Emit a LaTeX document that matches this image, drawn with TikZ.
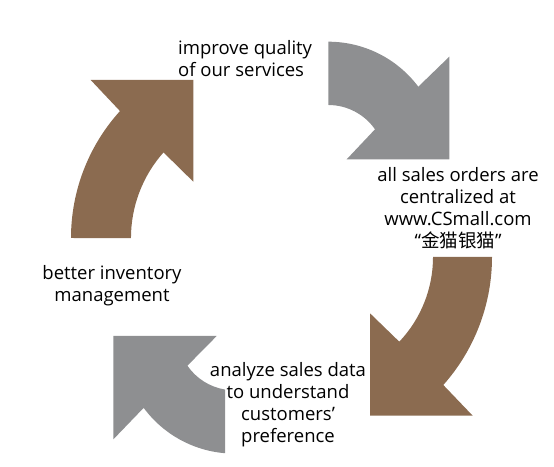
\documentclass[tikz,border=0pt]{standalone}
\usepackage{fontspec}
\setmainfont{Open Sans}
\newfontfamily\cjkfont{Noto Sans CJK SC}
\definecolor{arrbrown}{RGB}{139,107,80}
\definecolor{arrgray}{RGB}{142,143,145}
\begin{document}
\begin{tikzpicture}[x=1pt,y=1pt,
  lbl/.style={font=\fontsize{18.5}{22}\selectfont, inner sep=0pt},
  brownarrow/.style={fill=arrbrown, draw=none},
  grayarrow/.style={fill=arrgray, draw=none}]
\useasboundingbox (0,0) rectangle (554,466);
% arrow 1 (brown, upper left)
\fill[brownarrow] (71,228) arc[start angle=180,end angle=137.8,radius=189]
  -- (90.7,386) -- (193.3,386) -- (193.3,284.3) -- (163.5,313.6)
  arc[start angle=138.4,end angle=180,radius=129] -- cycle;
% arrow 2 (gray, upper right)
\fill[grayarrow] (328.3,424.3) arc[start angle=90,end angle=36.87,radius=112.5]
  -- (449.3,409.3) -- (449.3,306.7) -- (346.7,306.7) -- (375,336.7)
  arc[start angle=35,end angle=90,radius=57] -- cycle;
% arrow 3 (brown, lower right)
\fill[brownarrow] (492,209) arc[start angle=0,end angle=-41.65,radius=192.6]
  -- (472.7,50.3) -- (370,50.3) -- (370,152.7) -- (399.3,124.3)
  arc[start angle=-43.4,end angle=0,radius=123.3] -- cycle;
% arrow 4 (gray, lower left)
\fill[grayarrow] (113.3,130) -- (216.7,130) -- (187.4,100.3)
  arc[start angle=214.6,end angle=260.6,radius=57] -- (225,12.8)
  arc[start angle=265.3,end angle=216.4,radius=112.5] -- (113.3,26.6) -- cycle;
% labels
\node[lbl, align=left, anchor=west] (t1) at (178,407) {improve quality\\of our services};
\node[lbl, align=center] (t2) at (458,257.5) {all sales orders are\\centralized at\\www.CSmall.com\\“{\cjkfont 金猫银猫}”};
\node[lbl, align=center] (t3) at (112,180.5) {better inventory\\management};
\node[lbl, align=center] (t4) at (288,61) {analyze sales data\\to understand\\customers’\\preference};
\end{tikzpicture}
\end{document}
